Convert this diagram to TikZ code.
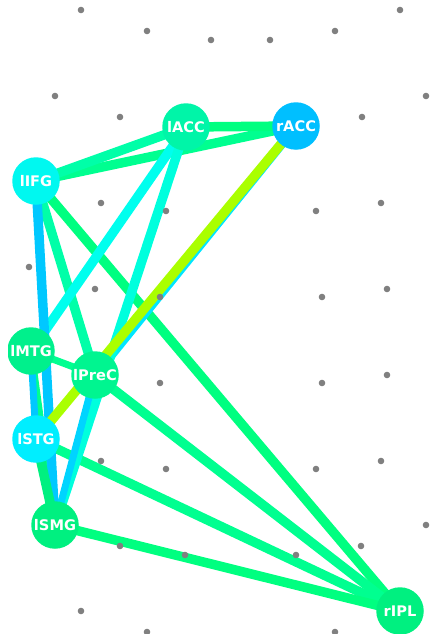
\documentclass[tikz,border=0pt]{standalone}
\usepackage{fontspec}
\setmainfont{DejaVu Sans}
\pgfdeclarelayer{edges}
\pgfdeclarelayer{dots}
\pgfsetlayers{edges,dots,main}
\definecolor{cACC}{HTML}{00F5A8}
\definecolor{cRACC}{HTML}{00BFFF}
\definecolor{cIFG}{HTML}{00F8F0}
\definecolor{cMTG}{HTML}{00F08C}
\definecolor{cPreC}{HTML}{00F590}
\definecolor{cSTG}{HTML}{00EEFF}
\definecolor{cSMG}{HTML}{00F080}
\definecolor{cIPL}{HTML}{00F080}
\definecolor{eGreen}{HTML}{00FF80}
\definecolor{eGreenB}{HTML}{00FF90}
\definecolor{eTeal}{HTML}{00FFA8}
\definecolor{eCyan}{HTML}{00FFEE}
\definecolor{eCyanB}{HTML}{00FFDD}
\definecolor{eSky}{HTML}{00E6FF}
\definecolor{eBlue}{HTML}{00C8FF}
\definecolor{eBlueB}{HTML}{00D4FF}
\definecolor{eLime}{HTML}{AAFF00}
\definecolor{dotgray}{HTML}{808080}
\tikzset{
  nd/.style={circle, minimum size=47.5pt, inner sep=0pt, text=white,
    font=\fontsize{14.6}{14.6}\selectfont\bfseries},
  edge/.style={line width=9.5pt},
  thinedge/.style={line width=7pt},
  dot/.style={fill=dotgray, draw=none},
}
\begin{document}
\begin{tikzpicture}[x=1pt,y=-1pt]
\useasboundingbox (0,0) rectangle (430,634);
\begin{scope}
\clip (8,0) rectangle (430,634);
\node[nd, fill=cACC]  (lACC)  at (186,127) {lACC};
\node[nd, fill=cRACC] (rACC)  at (296,126) {rACC};
\node[nd, fill=cIFG]  (lIFG)  at (36,181)  {lIFG};
\node[nd, fill=cMTG]  (lMTG)  at (31,351)  {lMTG};
\node[nd, fill=cPreC] (lPreC) at (95,375)  {lPreC};
\node[nd, fill=cSTG]  (lSTG)  at (36,439)  {lSTG};
\node[nd, fill=cSMG]  (lSMG)  at (55,525)  {lSMG};
\node[nd, fill=cIPL]  (rIPL)  at (400,611) {rIPL};
\end{scope}
\begin{pgfonlayer}{edges}
\draw[thinedge, eGreenB] (lMTG.center) -- (lSMG.center);
\draw[edge, eGreen]  (lIFG.center) -- (rIPL.center);
\draw[edge, eGreenB] (lPreC.center) -- (rIPL.center);
\draw[edge, eGreenB] (lSTG.center) -- (rIPL.center);
\draw[edge, eGreen]  (lSMG.center) -- (rIPL.center);
\draw[edge, eTeal]   (lIFG.center) -- (lPreC.center);
\draw[edge, eGreenB] (lIFG.center) -- (rACC.center);
\draw[edge, eTeal]   (lIFG.center) -- (lACC.center);
\draw[edge, eGreen]  (lACC.center) -- (rACC.center);
\draw[thinedge, eGreenB] (lMTG.center) -- (lPreC.center);
\draw[edge, eSky]    (rACC.center) -- (lPreC.center);
\draw[edge, eCyan]   (lACC.center) -- (lMTG.center);
\draw[edge, eCyanB]  (lACC.center) -- (lSMG.center);
\draw[edge, eBlue]   (lIFG.center) -- (lSMG.center);
\draw[thinedge, eBlue] (lMTG.center) -- (lSTG.center);
\draw[thinedge, eBlueB] (lPreC.center) -- (lSMG.center);
\draw[edge, cSMG]    (lSTG.center) -- (lSMG.center);
\draw[edge, eLime]   (rACC.center) -- (lSTG.center);
\end{pgfonlayer}
\begin{pgfonlayer}{dots}
\foreach \p in {(81,10),(147,31),(211,40),(270,40),(335,31),(400,10),
  (55,96),(120,117),(362,117),(426,96),
  (101,203),(166,211),(316,211),(381,203),
  (29,267),(95,289),(160,297),(322,297),(387,289),
  (160,383),(322,383),(387,375),
  (101,461),(166,469),(316,469),(381,461),
  (426,525),(120,546),(185,555),(296,555),(361,546),
  (81,611),(147,632),(335,632)}
  \fill[dot] \p circle[radius=3.3pt];
\end{pgfonlayer}
\end{tikzpicture}
\end{document}
